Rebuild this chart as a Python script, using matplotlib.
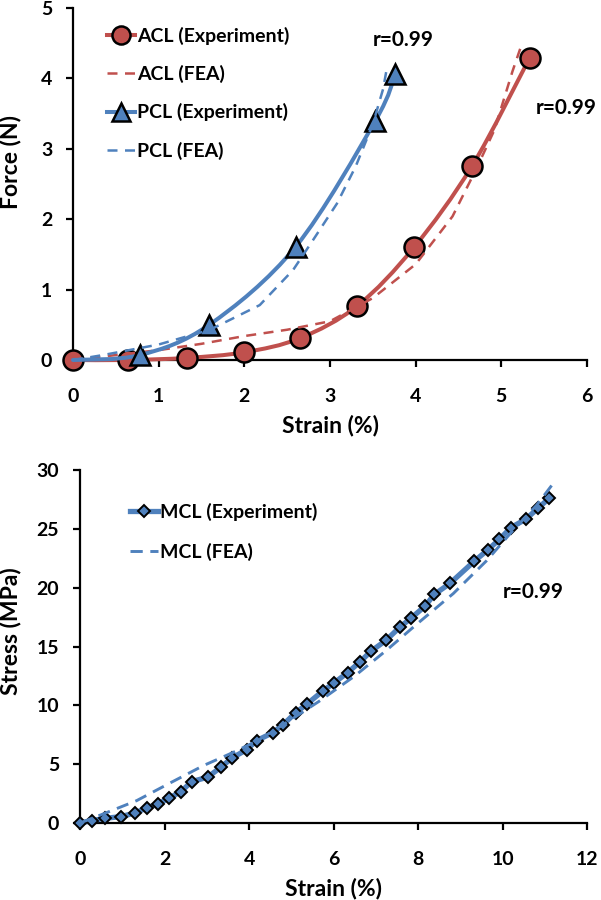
import numpy as np
import matplotlib
matplotlib.use("Agg")
import matplotlib.pyplot as plt
from matplotlib.path import Path
from matplotlib.patches import PathPatch
from matplotlib.lines import Line2D

plt.rcParams['font.family'] = ['Lato', 'DejaVu Sans']
plt.rcParams['font.weight'] = 'bold'
plt.rcParams['font.size'] = 14

TICK_FS = 14
LABEL_FS = 16.5
LEG_FS = 14
R_FS = 15

RED = '#C0504D'
BLUE = '#4F81BD'

# ---------------- data: top panel (Force vs strain) ----------------
acl_exp_x = [0, 0.64, 1.33, 2.0, 2.65, 3.32, 3.98, 4.66, 5.33]
acl_exp_y = [0, 0.0, 0.03, 0.11, 0.31, 0.77, 1.60, 2.76, 4.29]

acl_fea_x = [0, 0.5, 1.0, 1.5, 2.0, 2.5, 3.0, 3.5, 4.0, 4.43, 4.71, 4.92, 5.13, 5.22]
acl_fea_y = [0, 0.07, 0.14, 0.23, 0.34, 0.43, 0.55, 0.88, 1.36, 2.04, 2.72, 3.27, 4.1, 4.42]

pcl_exp_x = [0, 0.78, 1.59, 2.60, 3.53, 3.76]
pcl_exp_y = [0, 0.07, 0.50, 1.61, 3.40, 4.06]

pcl_fea_x = [0, 0.35, 1.0, 1.6, 2.18, 2.57, 2.8, 3.08, 3.3, 3.5, 3.62, 3.66]
pcl_fea_y = [0, 0.07, 0.22, 0.43, 0.78, 1.28, 1.7, 2.22, 2.75, 3.35, 3.85, 4.12]

# ---------------- data: bottom panel (Stress vs strain) ----------------
mcl_exp_x = [0, 0.28, 0.58, 0.96, 1.30, 1.58, 1.84, 2.10, 2.39, 2.64, 3.02, 3.33,
             3.60, 3.94, 4.18, 4.56, 4.81, 5.10, 5.36, 5.74, 6.02, 6.33, 6.62, 6.88,
             7.24, 7.57, 7.82, 8.16, 8.38, 8.75, 9.33, 9.64, 9.92, 10.19, 10.55,
             10.83, 11.10]
mcl_exp_y = [0, 0.2, 0.39, 0.54, 0.85, 1.28, 1.62, 2.1, 2.67, 3.52, 3.89, 4.74,
             5.54, 6.22, 7.01, 7.67, 8.37, 9.37, 10.08, 11.21, 11.93, 12.78, 13.68,
             14.59, 15.53, 16.66, 17.38, 18.42, 19.42, 20.36, 22.26, 23.19, 24.1,
             25.1, 25.83, 26.74, 27.6]

mcl_fea_x = [0, 0.55, 1.34, 2.13, 2.92, 3.63, 4.2, 5.0, 5.68, 6.5, 7.25, 8.0,
             8.83, 9.62, 10.25, 10.8, 11.16]
mcl_fea_y = [0, 0.77, 1.9, 3.4, 4.88, 6.01, 7.0, 8.8, 10.4, 12.5, 14.68, 17.0,
             19.5, 22.3, 24.9, 27.0, 28.7]

r_text = 'r=0.99'


def smooth_path(xs, ys):
    """Catmull-Rom style Bezier smoothing (like a spreadsheet 'smoothed line')."""
    p = np.column_stack([xs, ys]).astype(float)
    n = len(p)
    verts = [p[0]]
    codes = [Path.MOVETO]
    for i in range(n - 1):
        p0 = p[i - 1] if i > 0 else p[i]
        p1 = p[i]
        p2 = p[i + 1]
        p3 = p[i + 2] if i + 2 < n else p[i + 1]
        c1 = p1 + (p2 - p0) / 6.0
        c2 = p2 - (p3 - p1) / 6.0
        verts += [c1, c2, p2]
        codes += [Path.CURVE4] * 3
    return Path(verts, codes)


fig = plt.figure(figsize=(6.01, 9.0), dpi=100)

# ================= top panel =================
ax1 = fig.add_axes([73 / 601, 1 - 360 / 900, 514 / 601, 352 / 900])

DASH = (4, 3)
ax1.add_patch(PathPatch(smooth_path(acl_exp_x, acl_exp_y), fill=False,
                        edgecolor=RED, lw=2.9, zorder=3, clip_on=False,
                        capstyle='round', joinstyle='round'))
ax1.plot(acl_exp_x, acl_exp_y, linestyle='none', marker='o', ms=14.4,
         mfc=RED, mec='black', mew=1.8, zorder=4, clip_on=False)
ax1.plot(acl_fea_x, acl_fea_y, color=RED, lw=1.8, dashes=DASH, zorder=4.5,
         clip_on=False)
ax1.add_patch(PathPatch(smooth_path(pcl_exp_x, pcl_exp_y), fill=False,
                        edgecolor=BLUE, lw=2.9, zorder=5, clip_on=False,
                        capstyle='round', joinstyle='round'))
ax1.plot(pcl_exp_x[1:], pcl_exp_y[1:], linestyle='none', marker='^', ms=14,
         mfc=BLUE, mec='black', mew=1.8, zorder=6, clip_on=False)
ax1.plot(pcl_fea_x, pcl_fea_y, color=BLUE, lw=1.8, dashes=DASH, zorder=6.5,
         clip_on=False)

ax1.set_xlim(0, 6)
ax1.set_ylim(0, 5)
ax1.set_xticks(range(0, 7))
ax1.set_yticks(range(0, 6))
ax1.set_xlabel('Strain (%)', fontweight='bold', fontsize=LABEL_FS)
ax1.set_ylabel('Force (N)', fontweight='bold', fontsize=LABEL_FS)
ax1.xaxis.set_label_coords(0.5, -0.155)
ax1.yaxis.set_label_coords(-0.10, 0.563)

ax1.text(3.86, 4.55, r_text, ha='center', va='center', fontweight='bold',
         fontsize=R_FS)
ax1.text(5.76, 3.58, r_text, ha='center', va='center', fontweight='bold',
         fontsize=R_FS)

h1 = [
    Line2D([], [], color=RED, lw=2.9, marker='o', ms=13, mfc=RED,
           mec='black', mew=1.8),
    Line2D([], [], color=RED, lw=1.8, dashes=DASH),
    Line2D([], [], color=BLUE, lw=2.9, marker='^', ms=13, mfc=BLUE,
           mec='black', mew=1.8),
    Line2D([], [], color=BLUE, lw=1.8, dashes=DASH),
]
l1 = ['ACL (Experiment)', 'ACL (FEA)', 'PCL (Experiment)', 'PCL (FEA)']
ax1.legend(h1, l1, loc='upper left', bbox_to_anchor=(0.066, 0.947),
           frameon=False, borderpad=0, borderaxespad=0, handlelength=1.45,
           handletextpad=0.1, labelspacing=1.04, numpoints=1,
           prop={'size': LEG_FS, 'weight': 'bold'})

# ================= bottom panel =================
ax2 = fig.add_axes([80 / 601, 1 - 823 / 900, 507.3 / 601, 353 / 900])

ax2.plot(mcl_exp_x, mcl_exp_y, color=BLUE, lw=3.8, marker='D', ms=6,
         mfc=BLUE, mec='black', mew=1.4, zorder=3, clip_on=False)
ax2.plot(mcl_fea_x, mcl_fea_y, color=BLUE, lw=2.1, dashes=(4.2, 2.6),
         zorder=4, clip_on=False)

ax2.set_xlim(0, 12)
ax2.set_ylim(0, 30)
ax2.set_xticks(range(0, 13, 2))
ax2.set_yticks(range(0, 31, 5))
ax2.set_xlabel('Strain (%)', fontweight='bold', fontsize=LABEL_FS)
ax2.set_ylabel('Stress (MPa)', fontweight='bold', fontsize=LABEL_FS)
ax2.xaxis.set_label_coords(0.5, -0.155)
ax2.yaxis.set_label_coords(-0.116, 0.544)

ax2.text(10.71, 19.64, r_text, ha='center', va='center', fontweight='bold',
         fontsize=R_FS)

h2 = [
    Line2D([], [], color=BLUE, lw=3.8, marker='D', ms=6, mfc=BLUE,
           mec='black', mew=1.4),
    Line2D([], [], color=BLUE, lw=2.1, dashes=(4.2, 2.6)),
]
l2 = ['MCL (Experiment)', 'MCL (FEA)']
ax2.legend(h2, l2, loc='upper left', bbox_to_anchor=(0.099, 0.906),
           frameon=False, borderpad=0, borderaxespad=0, handlelength=1.45,
           handletextpad=0.1, labelspacing=1.1, numpoints=1,
           prop={'size': LEG_FS, 'weight': 'bold'})

for ax in (ax1, ax2):
    for s in ('top', 'right'):
        ax.spines[s].set_visible(False)
    for s in ('left', 'bottom'):
        ax.spines[s].set_linewidth(1.6)
        ax.spines[s].set_color('black')
    ax.tick_params(axis='both', direction='out', length=5, width=1.6,
                   labelsize=TICK_FS)
    ax.tick_params(axis='x', pad=15)
    ax.tick_params(axis='y', pad=10)
    for lab in ax.get_xticklabels() + ax.get_yticklabels():
        lab.set_fontweight('bold')

fig.savefig('out.png', dpi=100)
